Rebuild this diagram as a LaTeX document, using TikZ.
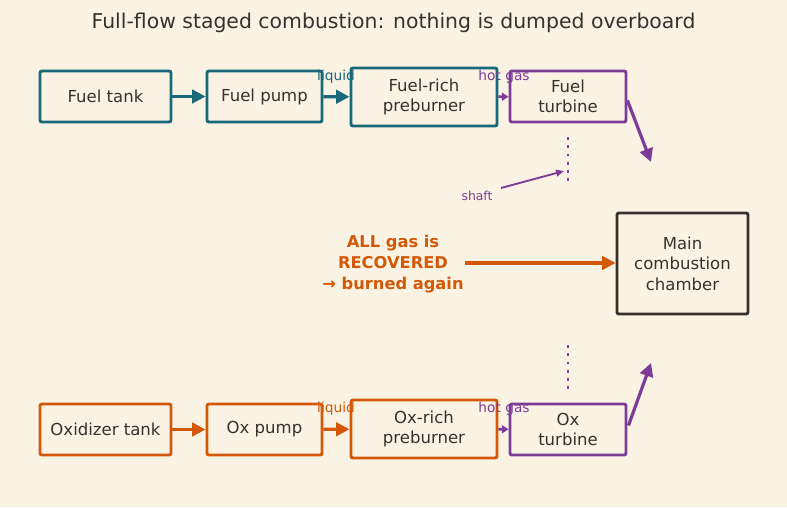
\documentclass[tikz,border=0pt]{standalone}
\usepackage{fontspec}
\setmainfont{DejaVu Sans}
\usepackage{xcolor}
\usetikzlibrary{arrows.meta}

\definecolor{bgcream}{RGB}{250,243,228}
\definecolor{tealc}{RGB}{24,106,122}
\definecolor{orangec}{RGB}{211,88,8}
\definecolor{purplec}{RGB}{125,60,152}
\definecolor{darkc}{RGB}{58,48,44}

\begin{document}
\begin{tikzpicture}[x=0.75pt,y=-0.75pt,
    box/.style={draw, line width=2.2pt, rounded corners=1.5pt, fill=bgcream, text=darkc,
      font=\fontsize{12.4}{15.3}\selectfont, align=center, inner sep=0pt},
    tankbox/.style={box, minimum width=98.25pt, minimum height=38.25pt},
    pumpbox/.style={box, minimum width=86.25pt, minimum height=38.25pt},
    burnbox/.style={box, minimum width=109.5pt, minimum height=43.5pt},
    turbbox/.style={box, draw=purplec, minimum width=87pt, minimum height=38.25pt},
    flow/.style={line width=2.4pt, -{Triangle[length=10pt,width=10pt]}},
    small/.style={line width=2pt, -{Triangle[length=5pt,width=6pt]}},
    tag/.style={font=\fontsize{10.3}{12}\selectfont, inner sep=0pt}]
  \fill[bgcream] (0,0) rectangle (787,507);
  \useasboundingbox (0,0) rectangle (787,507);

  % title
  \node[text=darkc, font=\fontsize{15.3}{18}\selectfont] (title) at (393.5,23)
    {Full-flow staged combustion: nothing is dumped overboard};

  % fuel side
  \node[tankbox, draw=tealc] (ftank) at (105.5,96.5) {Fuel tank};
  \node[pumpbox, draw=tealc] (fpump) at (264.5,96.5) {Fuel pump};
  \node[burnbox, draw=tealc] (fburn) at (424,97) {Fuel-rich\\preburner};
  \node[turbbox] (fturb) at (568,96.5) {Fuel\\turbine};

  % oxidizer side
  \node[tankbox, draw=orangec] (otank) at (105.5,429.5) {Oxidizer tank};
  \node[pumpbox, draw=orangec] (opump) at (264.5,429.5) {Ox pump};
  \node[burnbox, draw=orangec] (oburn) at (424,429) {Ox-rich\\preburner};
  \node[turbbox] (oturb) at (568,429.5) {Ox\\turbine};

  % main chamber
  \node[box, draw=darkc, minimum width=98.25pt, minimum height=75.75pt] (mcc) at (682.5,263.5)
    {Main\\combustion\\chamber};

  % flow arrows
  \draw[flow, tealc] (ftank) -- (fpump);
  \draw[flow, tealc] (fpump) -- (fburn);
  \draw[small, purplec] (fburn) -- (fturb);
  \draw[flow, orangec] (otank) -- (opump);
  \draw[flow, orangec] (opump) -- (oburn);
  \draw[small, purplec] (oburn) -- (oturb);

  \coordinate (ftop) at (651,162);
  \coordinate (obot) at (651,363);
  \draw[flow, purplec] (fturb.east) ++(0,4) coordinate (fout) -- (ftop);
  \draw[flow, purplec] (oturb.east) ++(1,-4) coordinate (oout) -- (obot);

  % labels
  \node[tag, text=tealc] (fliq) at (336,77) {liquid};
  \node[tag, text=purplec] (fhot) at (504,77) {hot gas};
  \node[tag, text=orangec] (oliq) at (336,409) {liquid};
  \node[tag, text=purplec] (ohot) at (504,409) {hot gas};

  % shafts
  \coordinate (fs1) at (568,137);
  \coordinate (fs2) at (568,182);
  \coordinate (os1) at (568,345);
  \coordinate (os2) at (568,390);
  \draw[purplec, line width=2.2pt, dash pattern=on 2.2pt off 4pt] (fs1) -- (fs2);
  \draw[purplec, line width=2.2pt, dash pattern=on 2.2pt off 4pt] (os1) -- (os2);
  \node[text=purplec, font=\fontsize{9.3}{11}\selectfont, inner sep=0pt] (shaft) at (477,196) {shaft};
  \coordinate (shafttip) at (564,171);
  \draw[purplec, line width=1.4pt, -{Triangle[length=6pt,width=5pt]}] (501,188) -- (shafttip);

  % recovered note
  \node[text=orangec, font=\bfseries\fontsize{12.2}{15.5}\selectfont, align=center] (note) at (393,264)
    {ALL gas is\\RECOVERED\\→ burned again};
  \draw[flow, orangec] (465,263) -- (mcc.west |- 0,263);
\end{tikzpicture}
\end{document}
